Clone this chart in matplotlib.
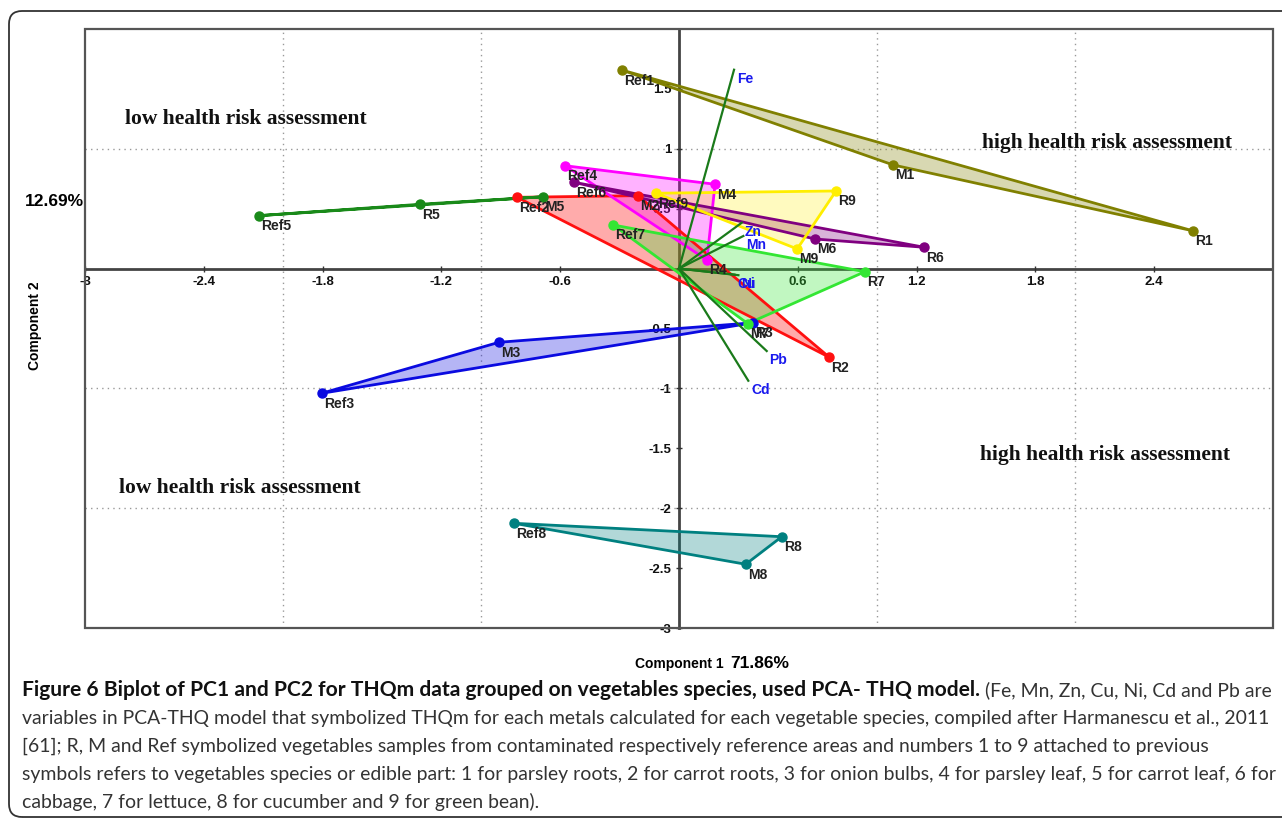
import matplotlib
matplotlib.use('Agg')
import matplotlib.pyplot as plt
from matplotlib.patches import Polygon, FancyBboxPatch, Rectangle
from matplotlib.transforms import IdentityTransform

# ---------------- data ----------------
groups = ['1', '2', '3', '4', '5', '6', '7', '8', '9']
ref_x = [-0.288, -0.817, -1.805, -0.576, -2.120, -0.529, -0.332, -0.833, -0.116]
ref_y = [1.657, 0.595, -1.041, 0.859, 0.442, 0.720, 0.364, -2.126, 0.629]
m_x = [1.082, -0.207, -0.909, 0.182, -0.685, 0.687, 0.347, 0.337, 0.597]
m_y = [0.865, 0.609, -0.615, 0.704, 0.600, 0.247, -0.459, -2.468, 0.164]
r_x = [2.594, 0.759, 0.375, 0.141, -1.308, 1.239, 0.939, 0.519, 0.793]
r_y = [0.316, -0.740, -0.452, 0.072, 0.537, 0.178, -0.026, -2.238, 0.648]

group_colors = ['#808000', '#ff1010', '#0a0ae0', '#ff00ff', '#1a8a1a',
                '#800080', '#33e633', '#008080', '#ffee00']
group_alpha = [0.3, 0.35, 0.3, 0.3, 0.3, 0.3, 0.3, 0.3, 0.25]

variables = ['Fe', 'Zn', 'Mn', 'Cu', 'Ni', 'Pb', 'Cd']
load_x = [0.278, 0.317, 0.325, 0.280, 0.300, 0.443, 0.350]
load_y = [1.660, 0.383, 0.272, -0.050, -0.055, -0.688, -0.936]

xticks = [-3, -2.4, -1.8, -1.2, -0.6, 0.6, 1.2, 1.8, 2.4]
yticks = [-3, -2.5, -2, -1.5, -1, -0.5, 0.5, 1, 1.5]
xgrid = [-2, -1, 1, 2]
ygrid = [-2, -1, 1]

zones = ['low health risk assessment', 'high health risk assessment',
         'high health risk assessment', 'low health risk assessment']
zone_x = [-2.80, 1.53, 1.52, -2.83]
zone_y = [1.245, 1.045, -1.56, -1.83]

caption_bold = ("Figure 6 Biplot of PC1 and PC2 for THQm data grouped on vegetables "
                "species, used PCA- THQ model.")
caption_lines = [
    " (Fe, Mn, Zn, Cu, Ni, Cd and Pb are",
    "variables in PCA-THQ model that symbolized THQm for each metals calculated for each vegetable species, compiled after Harmanescu et al., 2011",
    "[61]; R, M and Ref symbolized vegetables samples from contaminated respectively reference areas and numbers 1 to 9 attached to previous",
    "symbols refers to vegetables species or edible part: 1 for parsley roots, 2 for carrot roots, 3 for onion bulbs, 4 for parsley leaf, 5 for carrot leaf, 6 for",
    "cabbage, 7 for lettuce, 8 for cucumber and 9 for green bean).",
]

# ---------------- figure ----------------
W, H = 1282, 821
fig = plt.figure(figsize=(W / 100, H / 100), dpi=100)
fig.patch.set_facecolor('white')

frame = FancyBboxPatch((9, H - 817), 1300, 817 - 11,
                       boxstyle='round,pad=0,rounding_size=13',
                       transform=IdentityTransform(), fill=False,
                       ec='#333333', lw=1.3)
fig.patches.append(frame)

ax = fig.add_axes([85 / W, 1 - 628 / H, (1273 - 85) / W, (628 - 29) / H])
ax.set_xlim(-3, 3)
ax.set_ylim(-3, 2)
ax.patch.set_alpha(0)

ax.add_patch(Rectangle((0, 0), 1, 1, transform=ax.transAxes, fill=False,
                       ec='#555555', lw=1.6, clip_on=False, zorder=10))

for s in ['top', 'right']:
    ax.spines[s].set_visible(False)
ax.spines['left'].set_position(('data', 0))
ax.spines['bottom'].set_position(('data', 0))
for s in ['left', 'bottom']:
    ax.spines[s].set_linestyle((0, (1, 1)))
    ax.spines[s].set_linewidth(2.0)
    ax.spines[s].set_color('#444444')
    ax.spines[s].set_zorder(1)

ax.set_xticks(xticks)
ax.set_yticks(yticks)
ax.set_xticklabels([('%g' % v) for v in xticks])
ax.set_yticklabels([('%g' % v) for v in yticks])
ax.tick_params(direction='inout', length=5, width=1, color='#333333',
               labelsize=9.5, pad=3)
for lab in ax.get_xticklabels() + ax.get_yticklabels():
    lab.set_fontweight('bold')
    lab.set_family('Liberation Sans')
    lab.set_color('#111111')

for gx in xgrid:
    ax.axvline(gx, color='#999999', lw=1.0, ls=(0, (1, 3)), zorder=0)
for gy in ygrid:
    ax.axhline(gy, color='#999999', lw=1.0, ls=(0, (1, 3)), zorder=0)

for i, g in enumerate(groups):
    xs = [ref_x[i], m_x[i], r_x[i]]
    ys = [ref_y[i], m_y[i], r_y[i]]
    c = group_colors[i]
    ax.add_patch(Polygon(list(zip(xs, ys)), closed=True, fc=c,
                         alpha=group_alpha[i], ec='none', zorder=2))
    ax.add_patch(Polygon(list(zip(xs, ys)), closed=True, fill=False,
                         ec=c, lw=2.0, zorder=3))
    ax.plot(xs, ys, 'o', color=c, ms=6.5, zorder=4)
    for lbl, px, py in zip(['Ref' + g, 'M' + g, 'R' + g], xs, ys):
        ax.annotate(lbl, (px, py), xytext=(1.5, -2.5),
                    textcoords='offset points', ha='left', va='top',
                    fontsize=10, fontweight='bold', family='Liberation Sans',
                    color='#222222', zorder=6)

for v, lx, ly in zip(variables, load_x, load_y):
    ax.plot([0, lx], [0, ly], color='#1a7a1a', lw=1.6, zorder=5)
    ax.annotate(v, (lx, ly), xytext=(2, -1.5), textcoords='offset points',
                ha='left', va='top', fontsize=10, fontweight='bold',
                family='Liberation Sans', color='#1a1aee', zorder=6)

for t, zx, zy in zip(zones, zone_x, zone_y):
    ax.text(zx, zy, t, ha='left', va='center', fontsize=15.5,
            fontweight='bold', family='Liberation Serif', color='#111111')

fig.text(84 / W, 1 - 202 / H, '12.69%', ha='right', va='center',
         fontsize=12.5, fontweight='bold', family='Liberation Sans')
fig.text(35 / W, 1 - 326 / H, 'Component 2', ha='center', va='center',
         rotation=90, fontsize=10, fontweight='bold', family='Liberation Sans')
fig.text(635 / W, 1 - 668 / H, 'Component 1', ha='left', va='baseline',
         fontsize=10, fontweight='bold', family='Liberation Sans')
fig.text(730 / W, 1 - 668 / H, '71.86%', ha='left', va='baseline',
         fontsize=12.5, fontweight='bold', family='Liberation Sans')

# caption: fit sizes to the reference line widths
cap_font = ['Lato', 'DejaVu Sans']
baselines = [696, 724, 752, 780, 808]
renderer = fig.canvas.get_renderer()

probe = fig.text(0, 0, caption_lines[3], fontsize=10, family=cap_font)
wreg = probe.get_window_extent(renderer).width
probe.remove()
reg_size = 10 * 1254 / wreg
probe = fig.text(0, 0, caption_bold, fontsize=10, fontweight='bold', family=cap_font)
wb = probe.get_window_extent(renderer).width
probe.remove()
bold_size = 10 * 956 / wb

t1 = fig.text(22 / W, 1 - baselines[0] / H, caption_bold, ha='left',
              va='baseline', fontsize=bold_size, fontweight='bold',
              family=cap_font, color='#111111')
bb = t1.get_window_extent(renderer)
fig.text(bb.x1 / W, 1 - baselines[0] / H, caption_lines[0], ha='left',
         va='baseline', fontsize=reg_size, family=cap_font, color='#333333')
for line, b in zip(caption_lines[1:], baselines[1:]):
    fig.text(22 / W, 1 - b / H, line, ha='left', va='baseline',
             fontsize=reg_size, family=cap_font, color='#333333')

fig.savefig('out.png', dpi=100)
